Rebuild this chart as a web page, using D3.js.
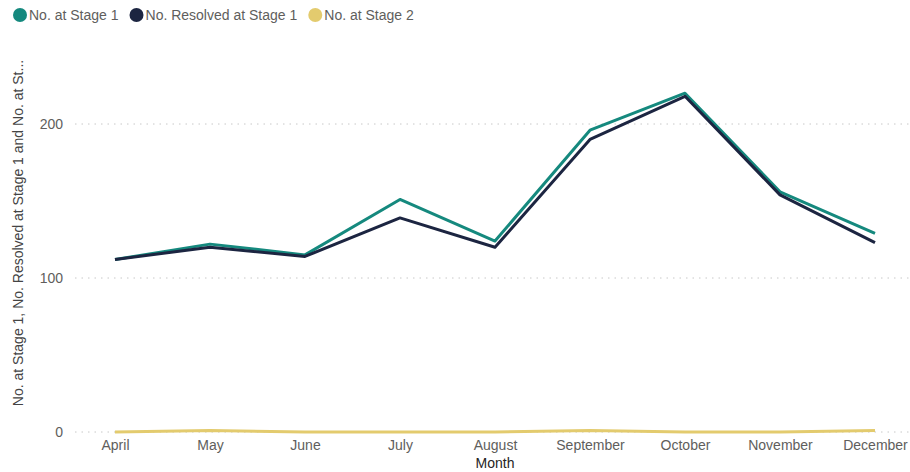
<!DOCTYPE html>
<html>
<head>
<meta charset="utf-8">
<script src="https://cdn.jsdelivr.net/npm/d3@7/dist/d3.min.js"></script>
<style>
  html, body { margin: 0; padding: 0; background: #fff; }
  svg { display: block; font-family: "Liberation Sans", Arial, sans-serif; }
</style>
</head>
<body>
<svg id="chart" width="910" height="472"></svg>
<script>
const months = ["April", "May", "June", "July", "August", "September", "October", "November", "December"];
const atStage1 = [112, 122, 115, 151, 124, 196, 220, 156, 129];
const resolvedStage1 = [112, 120, 114, 139, 120, 190, 218, 154, 123];
const atStage2 = [0, 1, 0, 0, 0, 1, 0, 0, 1];
const yTicks = [0, 100, 200];

const seriesNames = ["No. at Stage 1", "No. Resolved at Stage 1", "No. at Stage 2"];
const seriesColors = ["#15897e", "#1c2541", "#e3cb6e"];
const seriesValues = [atStage1, resolvedStage1, atStage2];

const svg = d3.select("#chart");
const W = 910;
const plotLeft = 75;

const x = d3.scalePoint().domain(months).range([115, 875]);
const y = d3.scaleLinear().domain([0, 200]).range([432, 124]);

// dotted gridlines
svg.append("g")
  .selectAll("line")
  .data(yTicks)
  .join("line")
  .attr("x1", plotLeft)
  .attr("x2", W)
  .attr("y1", d => y(d))
  .attr("y2", d => y(d))
  .attr("stroke", "#c8c8c8")
  .attr("stroke-width", 1)
  .attr("stroke-dasharray", "1.5,5");

// y axis labels
const yAxis = d3.axisLeft(y).tickValues(yTicks).tickSize(0).tickPadding(0);
const yg = svg.append("g").attr("transform", "translate(63,0)").call(yAxis);
yg.select(".domain").remove();
yg.selectAll("text")
  .attr("fill", "#605e5c")
  .attr("font-size", 14)
  .attr("font-family", "\"Liberation Sans\", Arial, sans-serif");

// x axis labels
const xAxis = d3.axisBottom(x).tickSize(0).tickPadding(0);
const xg = svg.append("g").attr("transform", "translate(0,440)").call(xAxis);
xg.select(".domain").remove();
xg.selectAll("text")
  .attr("fill", "#605e5c")
  .attr("font-size", 14)
  .attr("font-family", "\"Liberation Sans\", Arial, sans-serif");

// axis titles
svg.append("text")
  .attr("x", x("August"))
  .attr("y", 468)
  .attr("text-anchor", "middle")
  .attr("fill", "#252423")
  .attr("font-size", 14)
  .text("Month");

svg.append("text")
  .attr("transform", "translate(23,233) rotate(-90)")
  .attr("text-anchor", "middle")
  .attr("fill", "#444")
  .attr("font-size", 14)
  .text("No. at Stage 1, No. Resolved at Stage 1 and No. at St...");

// lines: stage 2 at the bottom, resolved drawn last so it sits over stage 1
const line = d3.line().x((d, i) => x(months[i])).y(d => y(d));
[2, 0, 1].forEach(k => {
  svg.append("path")
    .datum(seriesValues[k])
    .attr("d", line)
    .attr("fill", "none")
    .attr("stroke", seriesColors[k])
    .attr("stroke-width", 3)
    .attr("stroke-linejoin", "round");
});

// legend
const legend = svg.append("g").attr("transform", "translate(0,15)");
let lx = 13;
seriesNames.forEach((name, i) => {
  legend.append("circle").attr("cx", lx + 7).attr("cy", 0).attr("r", 7).attr("fill", seriesColors[i]);
  const t = legend.append("text")
    .attr("x", lx + 16)
    .attr("y", 5)
    .attr("fill", "#605e5c")
    .attr("font-size", 14)
    .text(name);
  lx += 16 + t.node().getComputedTextLength() + 11;
});
</script>
</body>
</html>
